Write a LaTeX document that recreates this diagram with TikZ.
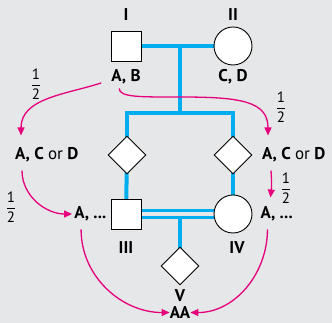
\documentclass[tikz,border=0pt]{standalone}
\usepackage{amsmath}
\usepackage{fontspec}
\setmainfont{PT Sans}
\usetikzlibrary{positioning,arrows.meta,shapes.geometric}

\definecolor{bggrey}{HTML}{E6E7E8}
\definecolor{pedblue}{HTML}{00AEEF}
\definecolor{inhpink}{HTML}{E5007D}

\newcommand{\half}{$\dfrac{\text{1}}{\text{2}}$}

\begin{document}
\begin{tikzpicture}[x=1pt,y=1pt,node distance=6pt,
    maleshape/.style={draw=black,line width=0.9pt,fill=white,minimum size=30pt,inner sep=0pt},
    femaleshape/.style={circle,draw=black,line width=0.9pt,fill=white,minimum size=38pt,inner sep=0pt},
    unkshape/.style={diamond,draw=black,line width=0.9pt,fill=white,minimum size=38pt,inner sep=0pt},
    pedline/.style={pedblue,line width=4pt},
    inharrow/.style={inhpink,line width=1.3pt,-{Triangle[length=8pt,width=7pt]}},
    geno/.style={font=\fontsize{17}{20}\selectfont\bfseries,inner sep=0pt},
    fracnote/.style={font=\fontsize{15}{17}\selectfont,inner sep=0pt}]

    % Background
    \fill[bggrey] (0,0) rectangle (332,323);
    \useasboundingbox (0,0) rectangle (332,323);

    % Set coordinates
    \coordinate (m1) at (180,277);
    \coordinate (m2) at (180,210);
    \coordinate (m3) at (180,109);
    \coordinate (cross) at (180,226);

    % Pedigree lines
    \draw[pedline] (126,277) -- (233,277);
    \draw[pedline] (m1) -- (m2);
    \draw[pedline] (127,168) |- (m2) -| (233,168);
    \draw[pedline] (127,168) -- (126,109);
    \draw[pedline] (233,168) -- (233,109);
    \draw[pedline] (m3) -- (180,57);
    \draw[pedblue,line width=3.4pt,double=bggrey,double distance=3.2pt] (126,109) -- (233,109);

    % Add individuals
    \node[maleshape] (sqI) at (126,277) {};
    \node[femaleshape] (circII) at (233,277) {};
    \node[unkshape] (diaL) at (127,168) {};
    \node[unkshape] (diaR) at (233,168) {};
    \node[maleshape] (sqIII) at (126,109) {};
    \node[femaleshape] (circIV) at (233,109) {};
    \node[unkshape] (diaV) at (180,57) {};

    % Labels
    \node[geno,above=10pt of sqI] (lI) {I};
    \node[geno,above=6pt of circII] (lII) {II};
    \node[geno,below=8pt of sqI] (gI) {A, B};
    \node[geno,below=4pt of circII] (gII) {C, D};
    \node[geno,anchor=west] (gL) at (15,168) {A, C \textmd{or} D};
    \node[geno,anchor=west] (gR) at (262,168) {A, C \textmd{or} D};
    \node[geno,left=4pt of sqIII] (gL3) {A, ...};
    \node[geno,right=8pt of circIV] (gR3) {A, ...};
    \node[geno,below=12pt of sqIII] (lIII) {III};
    \node[geno,below=8pt of circIV,xshift=4pt] (lIV) {IV};
    \node[geno,below=4pt of diaV] (lV) {V};
    \node[geno,anchor=base] (gV) at ([yshift=-17pt]lV.base) {AA};

    \node[fracnote] (f1) at (36,239) {\half};
    \node[fracnote] (f2) at (281,216) {\half};
    \node[fracnote] (f3) at (11,116) {\half};
    \node[fracnote] (f4) at (286,135) {\half};

    % Inheritance arrows
    \draw[inharrow] ([xshift=-10pt,yshift=-6pt]gI.west) to[out=198,in=90] ([xshift=6pt,yshift=12pt]gL.north west);
    \draw[inharrow] ([xshift=8pt,yshift=-4pt]gI.south west) .. controls +(0,-9) and (140,226) .. (cross)
                    .. controls (240,226) and (268,222) .. ([xshift=6pt,yshift=12pt]gR.north west);
    \draw[inharrow] ([xshift=7pt,yshift=-8pt]gL.south west) to[out=-90,in=180] ([xshift=-2pt]gL3.west);
    \draw[inharrow] ([xshift=9pt,yshift=-8pt]gR.south west) to[bend left=5] ([xshift=10pt,yshift=9pt]gR3.north west);
    \draw[inharrow] ([xshift=7pt,yshift=-8pt]gL3.south west) to[out=-90,in=180] (gV.west);
    \draw[inharrow] ([xshift=7pt,yshift=-8pt]gR3.south west) to[out=-90,in=0] (gV.east);
\end{tikzpicture}
\end{document}
